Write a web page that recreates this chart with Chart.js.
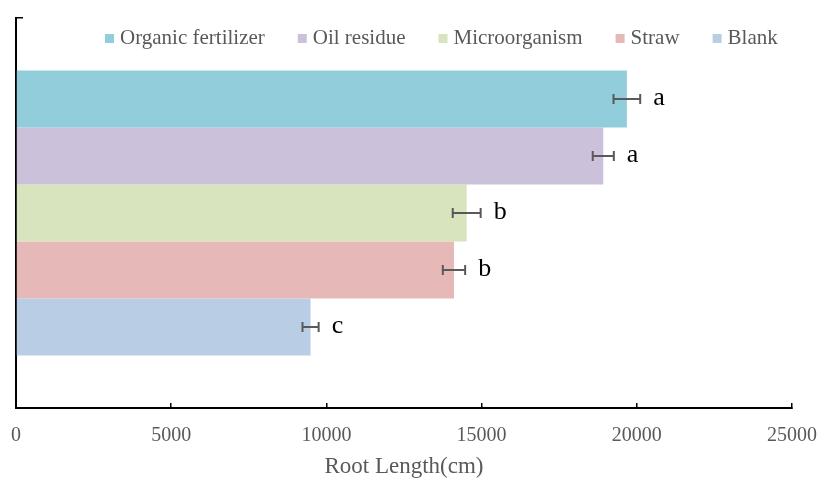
<!DOCTYPE html>
<html>
<head>
<meta charset="utf-8">
<script src="https://cdn.jsdelivr.net/npm/chart.js@4.4.1/dist/chart.umd.min.js"></script>
<style>
  html, body { margin: 0; padding: 0; background: #fff; }
  #wrap { width: 821px; height: 479px; position: relative; }
</style>
</head>
<body>
<div id="wrap"><canvas id="rootChart"></canvas></div>
<script>
// values
const treatments = ['Organic fertilizer', 'Oil residue', 'Microorganism', 'Straw', 'Blank'];
const rootLength = [19680, 18920, 14520, 14110, 9490];
const rootLengthErr = [430, 340, 450, 360, 260];
const sigLetters = ['a', 'a', 'b', 'b', 'c'];
const barColors = ['#92CDDC', '#CCC1DA', '#D7E4BD', '#E6B9B8', '#B9CDE5'];
const xMax = 25000;
const xStep = 5000;

const serif = '"Liberation Serif", "Times New Roman", serif';
Chart.defaults.font.family = serif;

// legend sits inside the plot area, like the Excel original
const topLegend = {
    id: 'topLegend',
    afterDraw(chart) {
        const ctx = chart.ctx;
        ctx.save();
        ctx.font = '21px ' + serif;
        ctx.textBaseline = 'middle';
        let x = chart.chartArea.left + 89;
        const y = 38.5;
        chart.data.datasets.forEach(ds => {
            ctx.fillStyle = ds.backgroundColor;
            ctx.fillRect(x, y - 4.5, 9, 9);
            x += 15;
            ctx.fillStyle = '#595959';
            ctx.fillText(ds.label, x, y);
            x += ctx.measureText(ds.label).width + 33;
        });
        ctx.restore();
    }
};

// error bars + significance letters
const errorBars = {
    id: 'errorBars',
    afterDatasetsDraw(chart) {
        const ctx = chart.ctx;
        const xs = chart.scales.x;
        ctx.save();
        chart.data.datasets.forEach((ds, i) => {
            const bar = chart.getDatasetMeta(i).data[0];
            const v = ds.data[0];
            const e = rootLengthErr[i];
            const x1 = xs.getPixelForValue(v - e);
            const x2 = xs.getPixelForValue(v + e);
            const y = bar.y;
            ctx.strokeStyle = '#595959';
            ctx.lineWidth = 2;
            ctx.beginPath();
            ctx.moveTo(x1, y); ctx.lineTo(x2, y);
            ctx.moveTo(x1, y - 5); ctx.lineTo(x1, y + 5);
            ctx.moveTo(x2, y - 5); ctx.lineTo(x2, y + 5);
            ctx.stroke();

            ctx.fillStyle = '#000';
            ctx.font = '26px ' + serif;
            ctx.textBaseline = 'middle';
            ctx.fillText(sigLetters[i], x2 + 13, y - 1);
        });
        ctx.restore();
    }
};

const ctx = document.getElementById('rootChart');
new Chart(ctx, {
    type: 'bar',
    data: {
        labels: [''],
        datasets: treatments.map((name, i) => ({
            label: name,
            data: [rootLength[i]],
            backgroundColor: barColors[i],
            borderWidth: 0
        }))
    },
    options: {
        indexAxis: 'y',
        responsive: true,
        maintainAspectRatio: false,
        animation: false,
        datasets: {
            bar: { categoryPercentage: 0.731, barPercentage: 1 }
        },
        layout: { padding: { left: 16, top: 18, right: 29, bottom: 0 } },
        scales: {
            x: {
                min: 0,
                max: xMax,
                afterFit: (s) => { s.height = 71; s.paddingLeft = 0; s.paddingRight = 0; },
                ticks: {
                    stepSize: xStep,
                    color: '#595959',
                    font: { size: 20 },
                    padding: 21,
                    callback: (v) => String(v)
                },
                grid: { drawOnChartArea: false, drawTicks: true, tickLength: -5, color: '#000', lineWidth: 1.5 },
                border: { display: true, color: '#000', width: 2 },
                title: {
                    display: true,
                    text: 'Root Length(cm)',
                    color: '#595959',
                    font: { size: 23, lineHeight: 1 },
                    padding: { top: 0, bottom: 1 }
                }
            },
            y: {
                offset: true,
                afterFit: (s) => { s.width = 0; },
                ticks: { display: false },
                grid: { drawOnChartArea: false, drawTicks: true, tickLength: -7, color: '#000', lineWidth: 1.5 },
                border: { display: true, color: '#000', width: 2 }
            }
        },
        plugins: {
            legend: { display: false },
            tooltip: { enabled: false }
        }
    },
    plugins: [errorBars, topLegend]
});
</script>
</body>
</html>
